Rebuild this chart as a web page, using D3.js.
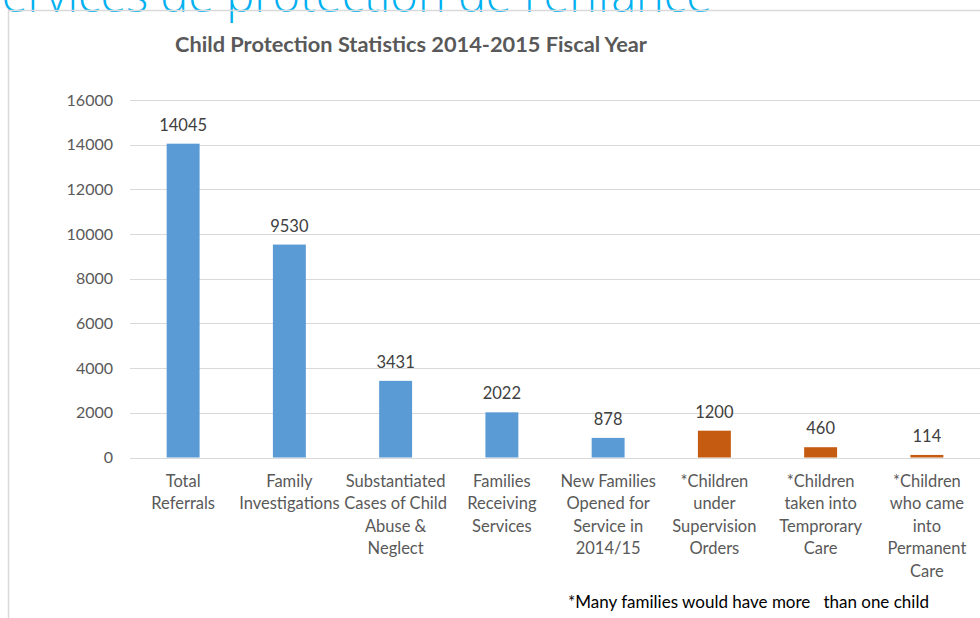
<!DOCTYPE html>
<html>
<head>
<meta charset="utf-8">
<script src="https://cdn.jsdelivr.net/npm/d3@7"></script>
<style>
  html, body { margin: 0; padding: 0; background: #fff; }
  svg { display: block; }
  text { font-family: Lato, "Open Sans", sans-serif; }
</style>
</head>
<body>
<svg id="chart" width="980" height="618"></svg>
<script>
const categories = [
  ["Total", "Referrals"],
  ["Family", "Investigations"],
  ["Substantiated", "Cases of Child", "Abuse &", "Neglect"],
  ["Families", "Receiving", "Services"],
  ["New Families", "Opened for", "Service in", "2014/15"],
  ["*Children", "under", "Supervision", "Orders"],
  ["*Children", "taken into", "Temprorary", "Care"],
  ["*Children", "who came", "into", "Permanent", "Care"]
];
const values = [14045, 9530, 3431, 2022, 878, 1200, 460, 114];
const groups = ["families", "families", "families", "families", "families", "children", "children", "children"];
const yTicks = [0, 2000, 4000, 6000, 8000, 10000, 12000, 14000, 16000];
const chartTitle = "Child Protection Statistics 2014-2015 Fiscal Year";
const pageHeading = "Services de protection de l'enfance";
const footnote = "*Many families would have more   than one child";

const svg = d3.select("#chart");
const W = 980, H = 618;
const margin = { left: 130, right: 0, top: 100, bottom: 161 };

// page heading (cropped at top, as in the source slide)
svg.append("text")
  .attr("x", 712).attr("y", 12)
  .attr("text-anchor", "end")
  .attr("fill", "#00B0F0")
  .style("font-family", "'Open Sans', sans-serif")
  .style("font-weight", 300)
  .style("font-size", "47px")
  .text(pageHeading);

// outer frame
svg.append("path")
  .attr("d", `M8.5,${H} L8.5,10.5 L${W},10.5`)
  .attr("fill", "none")
  .attr("stroke", "#d9d9d9")
  .attr("stroke-width", 1.5);

const x = d3.scaleBand()
  .domain(d3.range(categories.length))
  .range([margin.left, W - margin.right])
  .paddingInner(0.69)
  .paddingOuter(0.345);

const y = d3.scaleLinear()
  .domain([0, 16000])
  .range([H - margin.bottom + 0.5, margin.top]);

// gridlines
svg.append("g")
  .selectAll("line")
  .data(yTicks)
  .join("line")
  .attr("x1", margin.left).attr("x2", W)
  .attr("y1", d => Math.round(y(d)) + 0.5)
  .attr("y2", d => Math.round(y(d)) + 0.5)
  .attr("stroke", "#d9d9d9")
  .attr("stroke-width", 1);

// y axis
const yAxis = svg.append("g")
  .attr("transform", `translate(${margin.left - 14},0)`)
  .call(d3.axisLeft(y).tickValues(yTicks).tickSize(0).tickFormat(d3.format("d")));
yAxis.select(".domain").remove();
yAxis.selectAll("text")
  .attr("fill", "#595959")
  .style("font-size", "16px")
  .style("font-family", "Lato, sans-serif");

const color = g => g === "children" ? "#C55A11" : "#5B9BD5";

// bars
svg.append("g")
  .selectAll("rect")
  .data(values)
  .join("rect")
  .attr("x", (d, i) => x(i))
  .attr("width", x.bandwidth())
  .attr("y", d => y(d))
  .attr("height", d => y(0) - y(d))
  .attr("fill", (d, i) => color(groups[i]));

// value labels
svg.append("g")
  .selectAll("text")
  .data(values)
  .join("text")
  .attr("x", (d, i) => x(i) + x.bandwidth() / 2)
  .attr("y", d => y(d) - 13)
  .attr("text-anchor", "middle")
  .attr("fill", "#404040")
  .style("font-size", "16.5px")
  .text(d => d);

// category labels
const xAxis = svg.append("g")
  .attr("transform", `translate(0,${y(0)})`)
  .call(d3.axisBottom(x).tickSize(0).tickFormat(""));
xAxis.select(".domain").remove();
xAxis.selectAll(".tick").each(function(i) {
  const t = d3.select(this).append("text")
    .attr("text-anchor", "middle")
    .attr("fill", "#595959")
    .style("font-size", "16.5px");
  categories[i].forEach((line, k) => {
    t.append("tspan")
      .attr("x", 0)
      .attr("y", 29 + k * 22.5)
      .text(line);
  });
});

// title
svg.append("text")
  .attr("x", 411).attr("y", 52)
  .attr("text-anchor", "middle")
  .attr("fill", "#595959")
  .style("font-weight", 700)
  .style("font-size", "20px")
  .attr("textLength", 472)
  .attr("lengthAdjust", "spacingAndGlyphs")
  .text(chartTitle);

// footnote
svg.append("text")
  .attr("x", 568).attr("y", 608)
  .attr("fill", "#000")
  .style("font-size", "17px")
  .style("white-space", "pre")
  .attr("xml:space", "preserve")
  .text(footnote);
</script>
</body>
</html>
